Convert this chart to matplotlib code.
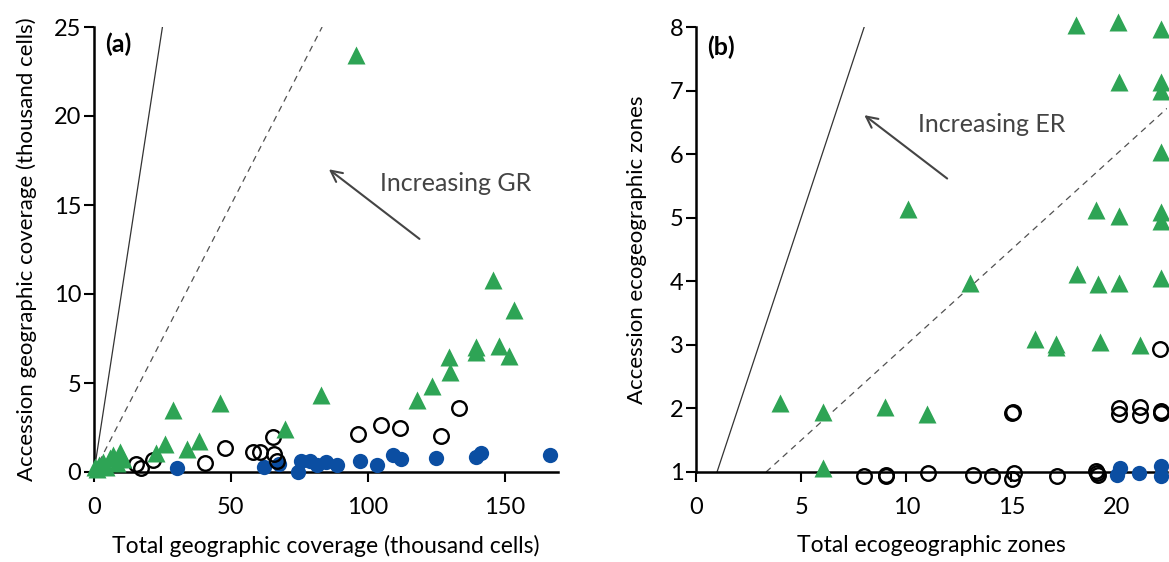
import matplotlib
matplotlib.use("Agg")
import matplotlib.pyplot as plt

# ---------------- Panel (a) data (thousand cells) ----------------
a_tri_x = [95.6, 145.6, 153.6, 139.4, 139.6, 148.0, 151.5, 129.6, 129.9, 123.4, 117.9,
           82.8, 46.0, 28.8, 69.7, 38.3, 33.8, 26.0, 22.5, 9.5, 5.8, 3.3, 0.4, 2.0,
           7.0, 8.5, 10.5, 4.5, 1.2]
a_tri_y = [23.4, 10.8, 9.1, 7.0, 6.75, 7.1, 6.5, 6.46, 5.6, 4.85, 4.05,
           4.3, 3.9, 3.5, 2.4, 1.74, 1.29, 1.55, 1.08, 1.14, 0.79, 0.56, 0.28, 0.4,
           0.95, 0.5, 0.75, 0.3, 0.15]
a_open_x = [15.3, 17.2, 21.6, 40.5, 47.8, 58.2, 60.6, 65.4, 65.8, 66.7,
            96.5, 105.0, 111.7, 126.6, 133.3]
a_open_y = [0.45, 0.2, 0.67, 0.49, 1.33, 1.14, 1.14, 1.98, 0.99, 0.64,
            2.13, 2.64, 2.45, 2.02, 3.58]
a_blue_x = [30.5, 62.2, 67.6, 74.6, 75.8, 78.8, 81.3, 84.9, 88.9, 97.1, 103.2,
            109.2, 112.3, 125.1, 139.7, 141.5, 166.4]
a_blue_y = [0.24, 0.3, 0.45, 0.02, 0.62, 0.62, 0.39, 0.54, 0.39, 0.64, 0.39,
            0.96, 0.71, 0.77, 0.82, 1.08, 0.96]

# ---------------- Panel (b) data (zones) ----------------
b_tri_x = [18.05, 20.05, 22.1, 20.1, 22.1, 22.1, 22.1, 10.1, 19.0, 20.1, 22.1, 22.1,
           13.05, 18.1, 19.1, 20.1, 22.1, 16.1, 17.1, 17.1, 19.2, 21.1,
           4.0, 6.06, 9.0, 11.0, 6.03]
b_tri_y = [8.03, 8.08, 7.97, 7.13, 7.13, 7.0, 6.03, 5.13, 5.12, 5.03, 5.09, 4.95,
           3.98, 4.12, 3.96, 3.98, 4.05, 3.1, 3.01, 2.96, 3.05, 3.0,
           2.08, 1.95, 2.03, 1.92, 1.07]
b_open_x = [22.05, 15.06, 15.04, 20.1, 20.1, 21.1, 21.1, 22.1, 22.1,
            7.97, 9.03, 9.05, 11.03, 13.16, 14.08, 15.1, 15.05, 17.17, 19.0, 19.1, 19.05]
b_open_y = [2.94, 1.95, 1.93, 2.0, 1.91, 2.03, 1.9, 1.96, 1.93,
            0.93, 0.95, 0.94, 0.99, 0.96, 0.93, 0.98, 0.89, 0.93, 1.02, 0.95, 0.99]
b_blue_x = [20.15, 20.0, 21.06, 22.1, 22.1]
b_blue_y = [1.07, 0.95, 0.98, 1.09, 0.93]

GREEN = "#2ea455"
BLUE = "#0b4ea2"
LINE = "#333333"
TXT = "#444444"

plt.rcParams['font.family'] = ['Lato', 'DejaVu Sans']

fig = plt.figure(figsize=(11.69, 5.62), dpi=100)
W, H = 1169, 562
axA = fig.add_axes([94 / W, 1 - 472 / H, (558 - 94) / W, (472 - 27) / H])
axB = fig.add_axes([696 / W, 1 - 472 / H, (1167 - 696) / W, (472 - 27) / H])


def style(ax):
    for s in ['top', 'right']:
        ax.spines[s].set_visible(False)
    for s in ['left', 'bottom']:
        ax.spines[s].set_linewidth(1.8)
    ax.tick_params(direction='out', length=7, width=1.5, labelsize=17)
    ax.tick_params(axis='x', pad=11)
    ax.tick_params(axis='y', pad=2)


def points(ax, tx, ty, ox, oy, bx, by):
    ax.plot(bx, by, 'o', ms=11, color=BLUE, mec='none', clip_on=False, zorder=3)
    ax.plot(ox, oy, 'o', ms=10.5, mfc='none', mec='black', mew=1.7, clip_on=False, zorder=4)
    ax.plot(tx, ty, '^', ms=12.5, color=GREEN, mec='none', clip_on=False, zorder=5)


ARROW = dict(arrowstyle='->,head_length=0.8,head_width=0.4', color=TXT, lw=1.5)

# ---- Panel (a)
style(axA)
axA.set_xlim(0, 169.5)
axA.set_ylim(0, 25)
axA.plot([0, 25], [0, 25], color=LINE, lw=0.9, zorder=2)
axA.plot([0, 25 / 0.3], [0, 25], color=LINE, lw=0.9, ls=(0, (5, 4)), zorder=2, alpha=0.85)
points(axA, a_tri_x, a_tri_y, a_open_x, a_open_y, a_blue_x, a_blue_y)
axA.set_xticks([0, 50, 100, 150])
axA.set_yticks([0, 5, 10, 15, 20, 25])
axA.set_xlabel("Total geographic coverage (thousand cells)", fontsize=16.5, labelpad=12)
axA.set_ylabel("Accession geographic coverage (thousand cells)", fontsize=16, labelpad=12)
axA.text(4, 24.0, "(a)", fontsize=18, fontweight='bold', va='center', ha='left')
axA.annotate("", xy=(85, 17.1), xytext=(119.7, 13.0), arrowprops=ARROW)
axA.text(104.4, 16.2, "Increasing GR", fontsize=18, color=TXT, va='center', ha='left')

# ---- Panel (b)
style(axB)
axB.set_xlim(0, 22.4)
axB.set_ylim(1, 8)
axB.plot([1, 8], [1, 8], color=LINE, lw=0.9, zorder=2)
axB.plot([1 / 0.3, 22.4], [1, 22.4 * 0.3], color=LINE, lw=0.9, ls=(0, (5, 4)), zorder=2,
         alpha=0.85)
points(axB, b_tri_x, b_tri_y, b_open_x, b_open_y, b_blue_x, b_blue_y)
axB.set_xticks([0, 5, 10, 15, 20])
axB.set_yticks([1, 2, 3, 4, 5, 6, 7, 8])
axB.set_xlabel("Total ecogeographic zones", fontsize=16.5, labelpad=12)
axB.set_ylabel("Accession ecogeographic zones", fontsize=16, labelpad=16)
axB.text(0.52, 7.68, "(b)", fontsize=18, fontweight='bold', va='center', ha='left')
axB.annotate("", xy=(7.9, 6.64), xytext=(12.05, 5.59), arrowprops=ARROW)
axB.text(10.57, 6.46, "Increasing ER", fontsize=18, color=TXT, va='center', ha='left')

fig.savefig("out.png", dpi=100)
